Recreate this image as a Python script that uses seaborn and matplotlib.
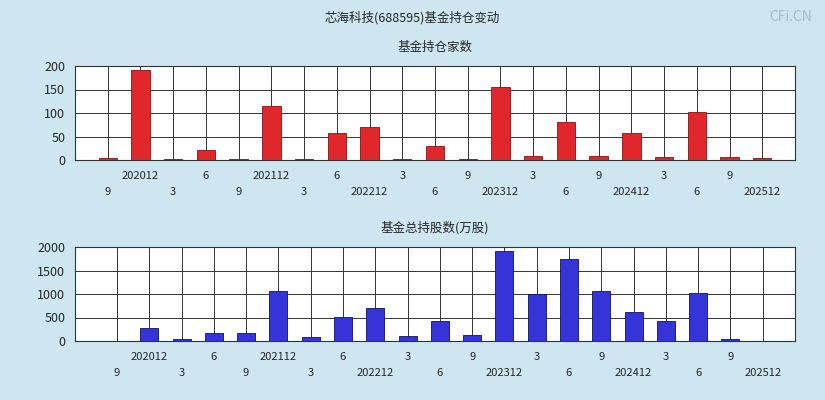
import matplotlib
matplotlib.use("Agg")
import matplotlib.pyplot as plt
import seaborn as sns
import numpy as np

sns.set_style("white")
plt.rcParams['font.family'] = ['Noto Sans CJK SC', 'DejaVu Sans']

quarters = ["9","202012","3","6","9","202112","3","6","202212","3","6","9",
            "202312","3","6","9","202412","3","6","9","202512"]
funds = [5,192,3,22,3,115,3,57,70,2,30,2,155,8,80,8,57,6,103,6,4]
shares = [5,280,50,180,160,1070,80,520,710,100,420,130,1920,1000,1750,1070,620,420,1030,40,10]

fig = plt.figure(figsize=(8.25,4.0), dpi=100)
fig.patch.set_facecolor("#cde6f0")
fig.text(0.5, 0.955, "芯海科技(688595)基金持仓变动", ha="center", va="center", fontsize=9)
fig.text(0.985, 0.975, "CFi.CN", ha="right", va="top", fontsize=10, color="#a9bcc6")

def panel(rect, vals, color, edge, xlim, ticks, title, ylim):
    ax = fig.add_axes(rect)
    x = np.arange(len(vals))
    sns.barplot(x=x, y=vals, ax=ax, color=color, width=0.56, native_scale=True,
                edgecolor=edge, linewidth=0.6, saturation=1, zorder=3)
    ax.set_xlim(*xlim)
    ax.set_ylim(*ylim)
    ax.set_yticks(ticks)
    ax.set_yticklabels([str(t) for t in ticks], fontsize=9)
    ax.set_xticks(x)
    ax.set_xticklabels([])
    ax.tick_params(axis='x', length=0)
    for i in x:
        ax.axvline(i, color="#333333", lw=0.7, zorder=1)
    for t in ticks[1:]:
        ax.axhline(t, color="#333333", lw=0.7, zorder=1)
    for i, q in enumerate(quarters):
        yoff = -0.17 if i % 2 == 1 else -0.34
        ax.text(i, yoff, q, transform=ax.get_xaxis_transform(), ha="center", va="center", fontsize=8)
    ax.text(0.5, 1.2, title, transform=ax.transAxes, ha="center", va="center", fontsize=9)
    for s in ax.spines.values():
        s.set_color("#333333"); s.set_linewidth(0.8)
    ax.set_facecolor("white")
    return ax

panel([75/825, 0.6, 720/825, 94/400], funds, "#e0282c", "#8a0f12", (-1, 21),
      [0,50,100,150,200], "基金持仓家数", (0,200))
panel([75/825, 59/400, 720/825, 94/400], shares, "#3434d8", "#10106a", (-1.3, 21),
      [0,500,1000,1500,2000], "基金总持股数(万股)", (0,2000))

fig.savefig("out.png", dpi=100, facecolor=fig.get_facecolor())
